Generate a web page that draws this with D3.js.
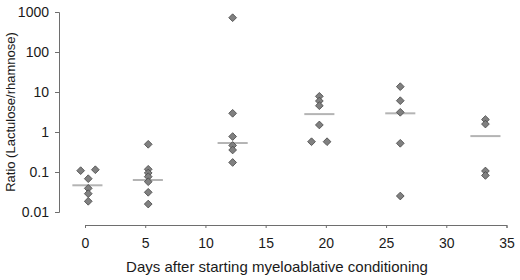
<!DOCTYPE html>
<html>
<head>
<meta charset="utf-8">
<script src="https://cdn.jsdelivr.net/npm/d3@7"></script>
<style>
  html, body { margin: 0; padding: 0; background: #ffffff; }
  svg { display: block; font-family: "Liberation Sans", Arial, sans-serif; }
</style>
</head>
<body>
<svg id="chart" width="520" height="280"></svg>
<script>
// ---- data ----
const pointDays   = [-0.36, 0.86, 0.27, 0.27, 0.27, 0.27,
                     5.25, 5.25, 5.25, 5.25, 5.25, 5.25, 5.25,
                     12.26, 12.26, 12.26, 12.26, 12.26, 12.26,
                     19.46, 19.46, 19.46, 19.46, 18.81, 20.1,
                     26.18, 26.18, 26.18, 26.18, 26.18,
                     33.25, 33.25, 33.25, 33.25];
const pointRatios = [0.108, 0.114, 0.068, 0.039, 0.0287, 0.0185,
                     0.493, 0.117, 0.0944, 0.0763, 0.0572, 0.0311, 0.0158,
                     720, 2.93, 0.77, 0.46, 0.355, 0.173,
                     7.8, 5.96, 4.54, 1.5, 0.572, 0.572,
                     13.6, 6.06, 3.11, 0.522, 0.0251,
                     2.05, 1.58, 0.106, 0.082];
const medianDays   = [0.2, 5.22, 12.26, 19.46, 26.18, 33.25];
const medianRatios = [0.0465, 0.063, 0.53, 2.8, 2.93, 0.79];
const xTicks = [0, 5, 10, 15, 20, 25, 30, 35];
const yTicks = [0.01, 0.1, 1, 10, 100, 1000];
const yTickLabels = ["0.01", "0.1", "1", "10", "100", "1000"];
const xTitle = "Days after starting myeloablative conditioning";
const yTitle = "Ratio (Lactulose/rhamnose)";

// ---- layout ----
const svg = d3.select("#chart");
const x = d3.scaleLinear().domain([0, 35]).range([85, 506.5]);
const y = d3.scaleLog().domain([0.01, 1000]).range([212, 12]);
const axisColor = "#6e6e6e";

// Y axis
const yAxis = svg.append("g")
  .attr("transform", "translate(59,0)")
  .call(d3.axisLeft(y).tickValues(yTicks)
        .tickFormat((d, i) => yTickLabels[i]).tickSizeOuter(0).tickSize(4).tickPadding(6));
yAxis.select(".domain").attr("stroke", axisColor);
yAxis.selectAll(".tick line").attr("stroke", axisColor);
yAxis.selectAll(".tick text").attr("fill", "#1a1a1a").style("font-size", "14px");

// X axis
const xAxis = svg.append("g")
  .attr("transform", "translate(0,225)")
  .call(d3.axisBottom(x).tickValues(xTicks).tickSizeOuter(0).tickSize(3).tickPadding(10));
xAxis.select(".domain").attr("stroke", axisColor);
xAxis.selectAll(".tick line").attr("stroke", axisColor);
xAxis.selectAll(".tick text").attr("fill", "#1a1a1a").style("font-size", "14px");

// Titles
svg.append("text")
  .attr("x", 277).attr("y", 272)
  .attr("text-anchor", "middle")
  .style("font-size", "15px").attr("fill", "#1a1a1a")
  .text(xTitle);
svg.append("text")
  .attr("transform", "translate(15,112) rotate(-90)")
  .attr("text-anchor", "middle")
  .style("font-size", "13px").attr("fill", "#1a1a1a")
  .text(yTitle);

// Median lines
svg.append("g").selectAll("line")
  .data(medianDays.map((d, i) => ({day: d, v: medianRatios[i]})))
  .join("line")
  .attr("x1", d => x(d.day - 1.25))
  .attr("x2", d => x(d.day + 1.25))
  .attr("y1", d => y(d.v))
  .attr("y2", d => y(d.v))
  .attr("stroke", "#b4b4b4")
  .attr("stroke-width", 2);

// Points (diamonds)
const diamond = d3.symbol().type(d3.symbolSquare).size(30);
svg.append("g").selectAll("path")
  .data(pointDays.map((d, i) => ({day: d, v: pointRatios[i]})))
  .join("path")
  .attr("d", diamond)
  .attr("transform", d => `translate(${x(d.day)},${y(d.v)}) rotate(45)`)
  .attr("fill", "#808080")
  .attr("stroke", "#4a4a4a")
  .attr("stroke-width", 0.8);
</script>
</body>
</html>
